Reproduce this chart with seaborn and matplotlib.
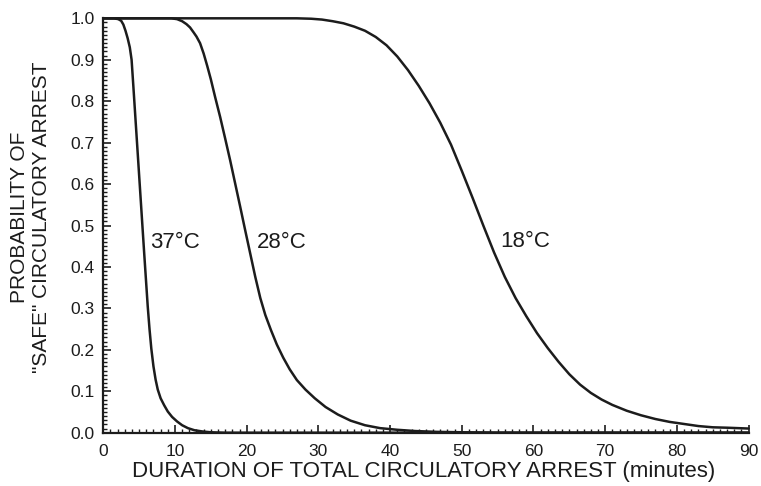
import numpy as np
import pandas as pd
import matplotlib
matplotlib.use("Agg")
import matplotlib.pyplot as plt
from matplotlib.ticker import MultipleLocator
import seaborn as sns

# Probability of "safe" circulatory arrest vs. duration, by temperature
minutes_37 = [0, 1.5, 2.1, 2.5, 2.8, 3.1, 3.4, 3.7, 3.95, 4.2, 4.5, 4.8, 5.1, 5.4, 5.7,
              5.95, 6.2, 6.45, 6.7, 7.0, 7.3, 7.6, 8.0, 8.5, 9.0, 9.6, 10.3, 11.0,
              11.8, 12.7, 13.8, 15.0, 17.0, 20.0, 90.0]
prob_37 = [1.0, 1.0, 0.998, 0.994, 0.985, 0.97, 0.952, 0.93, 0.90, 0.835, 0.755, 0.675,
           0.595, 0.515, 0.435, 0.37, 0.305, 0.25, 0.203, 0.16, 0.128, 0.104, 0.083,
           0.066, 0.051, 0.038, 0.027, 0.018, 0.011, 0.006, 0.003, 0.001, 0.0, 0.0, 0.0]

minutes_28 = [0, 9.5, 10.3, 11.0, 11.6, 12.1, 12.6, 13.0, 13.5, 14.0, 14.5, 15.0, 15.6,
              16.3, 17.0, 17.7, 18.4, 19.1, 19.8, 20.5, 21.2, 21.9, 22.6, 23.4, 24.2,
              25.1, 26.0, 27.0, 28.2, 29.5, 31.0, 32.7, 34.5, 36.5, 38.6, 41.0, 43.5,
              46.5, 50.0, 55.0, 90.0]
prob_28 = [1.0, 1.0, 0.998, 0.993, 0.986, 0.978, 0.966, 0.956, 0.94, 0.915, 0.885, 0.853,
           0.81, 0.762, 0.71, 0.657, 0.601, 0.545, 0.488, 0.432, 0.376, 0.325, 0.284,
           0.247, 0.213, 0.181, 0.153, 0.127, 0.104, 0.083, 0.062, 0.044, 0.029, 0.018,
           0.011, 0.007, 0.004, 0.002, 0.001, 0.0, 0.0]

minutes_18 = [0, 27.0, 29.0, 30.5, 32.0, 33.5, 35.0, 36.5, 38.0, 39.5, 41.0, 42.5, 44.0,
              45.5, 47.0, 48.5, 50.0, 51.5, 53.0, 54.5, 56.0, 57.5, 59.0, 60.5, 62.0,
              63.5, 65.0, 66.5, 68.0, 69.5, 71.0, 73.0, 75.0, 77.0, 79.0, 81.0, 83.0,
              85.0, 87.0, 90.0]
prob_18 = [1.0, 1.0, 0.999, 0.997, 0.993, 0.988, 0.98, 0.97, 0.955, 0.935, 0.908, 0.875,
           0.837, 0.795, 0.748, 0.695, 0.632, 0.567, 0.50, 0.435, 0.376, 0.325, 0.281,
           0.240, 0.204, 0.171, 0.141, 0.116, 0.096, 0.080, 0.067, 0.053, 0.042, 0.033,
           0.026, 0.021, 0.016, 0.013, 0.012, 0.010]

temperatures = ["37°C", "28°C", "18°C"]
label_x = [6.5, 21.4, 55.3]
label_y = [0.458, 0.458, 0.461]

x_ticks = [0, 10, 20, 30, 40, 50, 60, 70, 80, 90]
y_ticks = [0.0, 0.1, 0.2, 0.3, 0.4, 0.5, 0.6, 0.7, 0.8, 0.9, 1.0]

frames = []
for name, xs, ys in zip(temperatures, [minutes_37, minutes_28, minutes_18],
                        [prob_37, prob_28, prob_18]):
    frames.append(pd.DataFrame({"minutes": xs, "prob": ys, "temp": name}))
df = pd.concat(frames, ignore_index=True)

sns.set_theme(style="ticks")
plt.rcParams["font.family"] = ["Liberation Sans", "DejaVu Sans"]
ink = "#1c1c1c"

fig = plt.figure(figsize=(7.61, 4.86), dpi=100)
ax = fig.add_axes([0.1357, 0.1097, 0.9837 - 0.1357, 0.9623 - 0.1097])

sns.lineplot(data=df, x="minutes", y="prob", hue="temp",
             palette={t: ink for t in temperatures}, estimator=None,
             sort=False, linewidth=1.8, legend=False, ax=ax)
for line in ax.get_lines():
    line.set_clip_on(False)
    line.set_solid_joinstyle("round")

for name, lx, ly in zip(temperatures, label_x, label_y):
    ax.text(lx, ly, name, fontsize=16, color=ink, ha="left", va="center")

ax.set_xlim(0, 90)
ax.set_ylim(0, 1.0)
ax.set_xticks(x_ticks)
ax.set_yticks(y_ticks)
ax.set_xticklabels([str(v) for v in x_ticks])
ax.set_yticklabels([f"{v:.1f}" for v in y_ticks])
ax.xaxis.set_minor_locator(MultipleLocator(1))
ax.yaxis.set_minor_locator(MultipleLocator(0.01))

ax.tick_params(which="major", direction="in", length=6, width=1.2,
               color=ink, labelsize=12.5, labelcolor=ink)
ax.tick_params(which="minor", direction="in", length=3, width=1.0, color=ink)
ax.tick_params(axis="y", which="major", pad=6)
ax.tick_params(axis="x", which="major", pad=8)

sns.despine(ax=ax, top=True, right=True)
for side in ("left", "bottom"):
    ax.spines[side].set_linewidth(1.6)
    ax.spines[side].set_color(ink)

ax.set_xlabel("DURATION OF TOTAL CIRCULATORY ARREST (minutes)",
              fontsize=16, color=ink)
ax.xaxis.set_label_coords(0.497, -0.068)
ax.set_ylabel("PROBABILITY OF\n\"SAFE\" CIRCULATORY ARREST",
              fontsize=15, color=ink, linespacing=1.2)
ax.yaxis.set_label_coords(-0.081, 0.52)

fig.savefig("out.png", dpi=100, facecolor="white")
